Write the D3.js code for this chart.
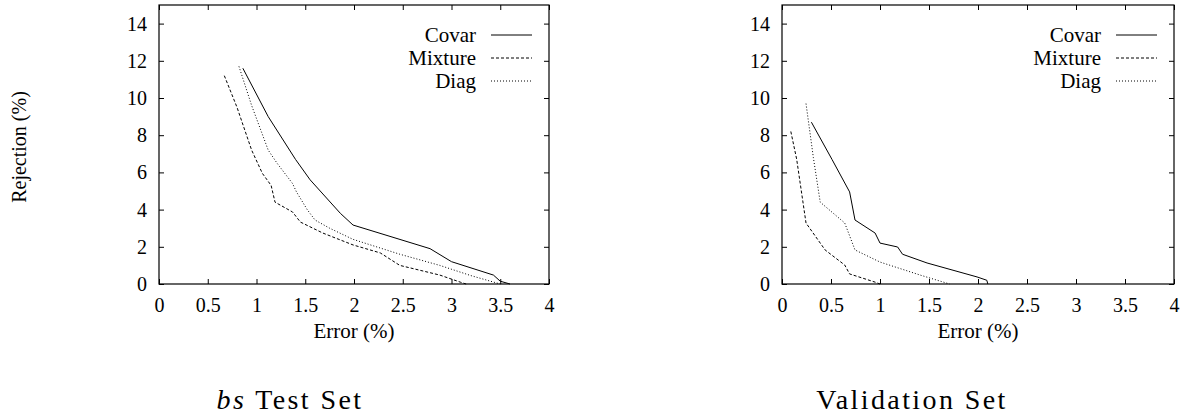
<!DOCTYPE html>
<html>
<head>
<meta charset="utf-8">
<script src="https://cdn.jsdelivr.net/npm/d3@7"></script>
<style>
  body { margin: 0; background: #fff; }
</style>
</head>
<body>
<div id="chart"></div>
<script>
// error (%) vs rejection (%) pairs

// bs test set
let covarTest = [[0.86,11.6],[1.12,9.0],[1.40,6.7],[1.55,5.6],[1.86,3.8],[1.99,3.17],
  [2.78,1.9],[3.0,1.2],[3.43,0.48],[3.5,0.15],[3.6,0]];
let mixtureTest = [[0.67,11.2],[0.8,9.5],[0.95,7.2],[1.06,5.95],[1.15,5.3],[1.19,4.4],
  [1.37,3.87],[1.45,3.33],[1.68,2.74],[1.99,2.1],[2.27,1.67],[2.47,1.0],[2.88,0.48],[3.09,0.1],[3.15,0]];
let diagTest = [[0.82,11.7],[0.95,9.6],[1.12,7.2],[1.21,6.5],[1.37,5.4],[1.41,4.95],
  [1.52,4.0],[1.60,3.44],[1.75,3.0],[1.99,2.4],[2.47,1.6],[2.88,1.0],[3.2,0.45],[3.4,0.15],[3.5,0]];

// validation set
let covarVal = [[0.30,8.7],[0.51,6.7],[0.69,4.95],[0.745,3.44],[0.95,2.74],[1.0,2.2],
  [1.18,1.99],[1.23,1.6],[1.48,1.13],[1.99,0.38],[2.09,0.2],[2.1,0]];
let mixtureVal = [[0.09,8.2],[0.15,6.7],[0.245,3.28],[0.44,1.83],[0.64,1.02],[0.69,0.54],
  [0.95,0.1],[1.0,0]];
let diagVal = [[0.245,9.7],[0.32,6.8],[0.39,4.4],[0.64,3.28],[0.745,1.83],[1.0,1.18],
  [1.41,0.48],[1.71,0]];

let seriesNames = ["Covar", "Mixture", "Diag"];
let dashes = [null, "3,2", "1,2"];

let xTicks = [0, 0.5, 1, 1.5, 2, 2.5, 3, 3.5, 4];
let yTicks = [0, 2, 4, 6, 8, 10, 12, 14];

let serif = '"Liberation Serif", "Times New Roman", serif';

let svg = d3.select("#chart").append("svg")
  .attr("width", 1186).attr("height", 418)
  .style("font-family", serif);

function makePlot(x0, x1, curves, title, yLabel)
{
  let xScale = d3.scaleLinear().domain([0, 4]).range([x0, x1]);
  let yScale = d3.scaleLinear().domain([0, 15]).range([284, 5]);

  let g = svg.append("g");

  // inward ticks on all four sides
  g.append("g").attr("transform", "translate(0,284)")
    .call(d3.axisBottom(xScale).tickValues(xTicks).tickSize(-5).tickPadding(14)
      .tickFormat(d3.format("")));
  g.append("g").attr("transform", "translate(0,5)")
    .call(d3.axisTop(xScale).tickValues(xTicks).tickSize(-5).tickFormat(""));
  g.append("g").attr("transform", "translate(" + x0 + ",0)")
    .call(d3.axisLeft(yScale).tickValues(yTicks).tickSize(-5).tickPadding(12));
  g.append("g").attr("transform", "translate(" + x1 + ",0)")
    .call(d3.axisRight(yScale).tickValues(yTicks).tickSize(-5).tickFormat(""));

  g.selectAll(".domain").remove();
  g.selectAll("g").attr("font-family", null).attr("font-size", null);
  g.selectAll(".tick line").attr("stroke", "#000");
  g.selectAll(".tick text").attr("fill", "#000")
    .style("font-family", serif).style("font-size", "20px");

  g.append("rect")
    .attr("x", x0).attr("y", 5)
    .attr("width", x1 - x0).attr("height", 279)
    .attr("fill", "none").attr("stroke", "#000").attr("stroke-width", 1.2);

  let line = d3.line()
    .x(d => xScale(d[0]))
    .y(d => yScale(d[1]));

  curves.forEach(function(c, i) {
    g.append("path")
      .datum(c)
      .attr("d", line)
      .attr("fill", "none")
      .attr("stroke", "#000")
      .attr("stroke-width", 1)
      .attr("stroke-dasharray", dashes[i]);
  });

  // legend
  let legX = x1 - 73;
  seriesNames.forEach(function(name, i) {
    let ly = 35 + i * 23;
    g.append("text").text(name)
      .attr("x", legX).attr("y", ly + 7)
      .attr("text-anchor", "end")
      .style("font-family", serif).style("font-size", "21px");
    g.append("line")
      .attr("x1", legX + 15).attr("x2", legX + 56)
      .attr("y1", ly).attr("y2", ly)
      .attr("stroke", "#000").attr("stroke-width", 1)
      .attr("stroke-dasharray", dashes[i]);
  });

  g.append("text").text("Error (%)")
    .attr("x", (x0 + x1) / 2).attr("y", 338)
    .attr("text-anchor", "middle")
    .style("font-family", serif).style("font-size", "21px");

  let t = g.append("text")
    .attr("x", title.cx).attr("y", 409)
    .attr("text-anchor", "middle")
    .style("font-family", serif).style("font-size", "28px")
    .style("letter-spacing", "2.4px");
  if (title.italic) {
    t.append("tspan").style("font-style", "italic").text(title.italic);
  }
  t.append("tspan").text(title.text);

  if (yLabel) {
    svg.append("text").text(yLabel)
      .attr("transform", "translate(26,147)rotate(-90)")
      .attr("text-anchor", "middle")
      .style("font-family", serif).style("font-size", "20px");
  }
}

makePlot(159, 549, [covarTest, mixtureTest, diagTest],
  {cx: 290, italic: "bs", text: " Test Set"}, "Rejection (%)");
makePlot(782, 1174, [covarVal, mixtureVal, diagVal],
  {cx: 912, italic: null, text: "Validation Set"}, null);
</script>
</body>
</html>
